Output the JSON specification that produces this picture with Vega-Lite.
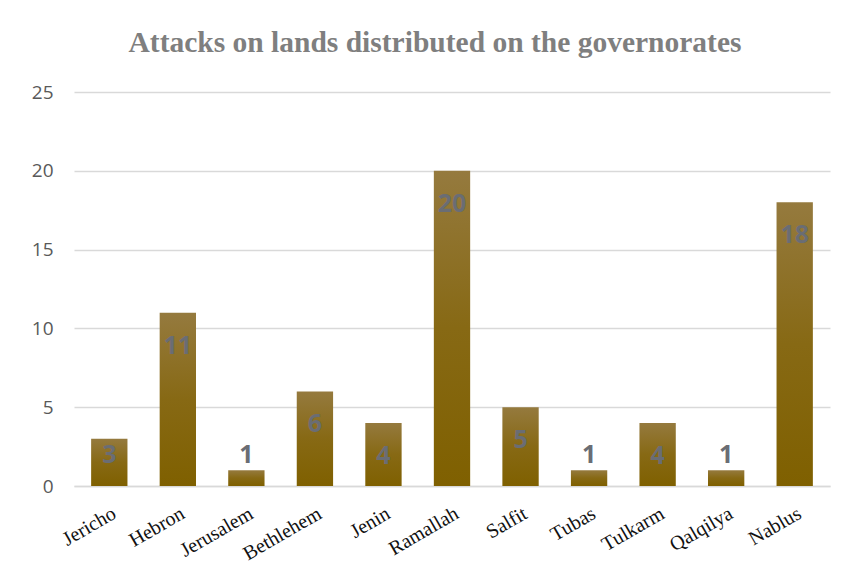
{
  "$schema": "https://vega.github.io/schema/vega-lite/v6.json",
  "width": 756,
  "height": 394,
  "autosize": {"type": "none"},
  "padding": {"left": 74, "top": 92, "right": 26, "bottom": 90},
  "background": "white",
  "config": {"view": {"stroke": null}},
  "title": {
    "text": "Attacks on lands distributed on the governorates",
    "font": "Liberation Serif",
    "fontSize": 29.5,
    "fontWeight": "bold",
    "color": "#7f7f7f",
    "anchor": "middle",
    "baseline": "alphabetic",
    "offset": 2,
    "dx": -17
  },
  "data": {
    "values": [
      {"g": "Jericho", "v": 3},
      {"g": "Hebron", "v": 11},
      {"g": "Jerusalem", "v": 1},
      {"g": "Bethlehem", "v": 6},
      {"g": "Jenin", "v": 4},
      {"g": "Ramallah", "v": 20},
      {"g": "Salfit", "v": 5},
      {"g": "Tubas", "v": 1},
      {"g": "Tulkarm", "v": 4},
      {"g": "Qalqilya", "v": 1},
      {"g": "Nablus", "v": 18}
    ]
  },
  "encoding": {
    "x": {
      "field": "g",
      "type": "nominal",
      "sort": null,
      "scale": {"paddingInner": 0.47, "paddingOuter": 0.25},
      "axis": {
        "title": null,
        "labelAngle": -30,
        "labelFont": "Liberation Serif",
        "labelFontSize": 20,
        "labelColor": "#111111",
        "labelPadding": 17,
        "labelDx": 10,
        "ticks": false,
        "domainColor": "#d9d9d9",
        "domainWidth": 1.5
      }
    }
  },
  "layer": [
    {
      "mark": {
        "type": "bar",
        "color": {
          "gradient": "linear",
          "x1": 0, "y1": 0, "x2": 0, "y2": 1,
          "stops": [
            {"offset": 0, "color": "#957a3e"},
            {"offset": 0.5, "color": "#876914"},
            {"offset": 1, "color": "#7f6000"}
          ]
        }
      },
      "encoding": {
        "y": {
          "field": "v",
          "type": "quantitative",
          "scale": {"domain": [0, 25], "nice": false},
          "axis": {
            "title": null,
            "values": [0, 5, 10, 15, 20, 25],
            "labelFont": "Open Sans",
            "labelFontSize": 19,
            "labelColor": "#595959",
            "labelPadding": 21,
            "ticks": false,
            "domain": false,
            "gridColor": "#d9d9d9",
            "gridWidth": 1.5
          }
        }
      }
    },
    {
      "transform": [{"filter": "datum.v >= 4"}],
      "mark": {
        "type": "text",
        "font": "Open Sans",
        "fontSize": 25,
        "fontWeight": "bold",
        "color": "#6a6d74",
        "baseline": "middle",
        "dy": 33
      },
      "encoding": {
        "y": {"field": "v", "type": "quantitative"},
        "text": {"field": "v", "type": "quantitative"}
      }
    },
    {
      "transform": [{"filter": "datum.v < 4"}],
      "mark": {
        "type": "text",
        "font": "Open Sans",
        "fontSize": 25,
        "fontWeight": "bold",
        "color": "#6a6d74",
        "baseline": "middle"
      },
      "encoding": {
        "y": {"datum": 1.97, "type": "quantitative"},
        "text": {"field": "v", "type": "quantitative"}
      }
    }
  ]
}
